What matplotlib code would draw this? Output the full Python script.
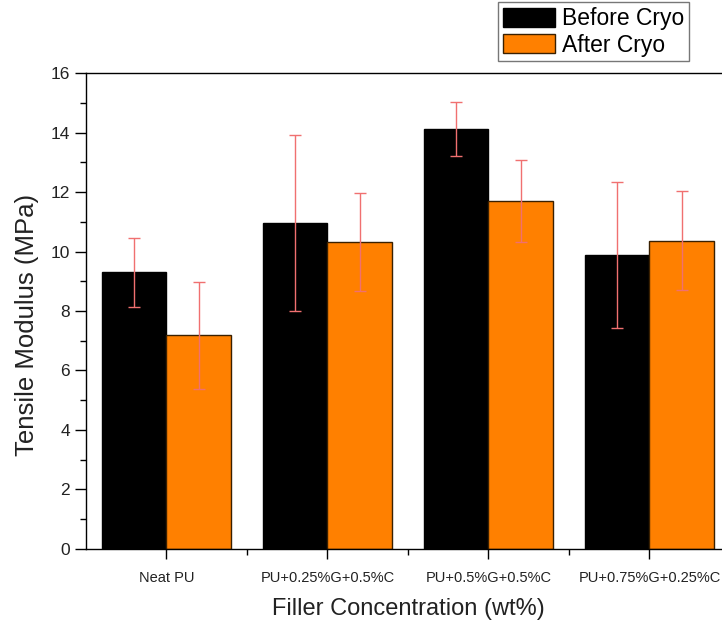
import numpy as np
import matplotlib.pyplot as plt
from matplotlib.ticker import MultipleLocator, FixedLocator

plt.rcParams['font.family'] = ['Liberation Sans', 'DejaVu Sans']

categories = ['Neat PU', 'PU+0.25%G+0.5%C', 'PU+0.5%G+0.5%C', 'PU+0.75%G+0.25%C']
before_cryo = [9.30, 10.96, 14.12, 9.88]
before_err = [1.17, 2.97, 0.92, 2.46]
after_cryo = [7.19, 10.32, 11.70, 10.36]
after_err = [1.80, 1.66, 1.38, 1.67]

fig = plt.figure(figsize=(7.22, 6.23), dpi=100)
ax = fig.add_axes([0.119, 0.1188, 0.892, 0.764])

x = np.arange(1, len(categories) + 1)
w = 0.4
err_style = dict(ecolor='#f07070', elinewidth=1.0, capsize=4, capthick=1.0)
b1 = ax.bar(x - w / 2, before_cryo, w, color='black', edgecolor='black',
            linewidth=1, yerr=before_err, error_kw=err_style, label='Before Cryo')
b2 = ax.bar(x + w / 2, after_cryo, w, color='#ff8000', edgecolor='#3a2000',
            linewidth=1, yerr=after_err, error_kw=err_style, label='After Cryo')

ax.set_xlim(0.5, 4.5)
ax.set_ylim(0, 16)
ax.set_xticks(x)
ax.set_xticklabels(categories, fontsize=10.5, color='#222222')
ax.xaxis.set_minor_locator(FixedLocator([1.5, 2.5, 3.5]))
ax.yaxis.set_major_locator(MultipleLocator(2))
ax.yaxis.set_minor_locator(MultipleLocator(1))
ax.tick_params(axis='y', which='major', labelsize=12.5, length=8, width=1,
               direction='out', labelcolor='#222222')
ax.tick_params(axis='y', which='minor', length=4, width=1, direction='out')
ax.tick_params(axis='x', which='major', length=7, width=1, direction='out', pad=9)
ax.tick_params(axis='x', which='minor', length=4, width=1, direction='out')
ax.spines['right'].set_visible(False)
for s in ['left', 'bottom', 'top']:
    ax.spines[s].set_linewidth(1.0)

ax.set_ylabel('Tensile Modulus (MPa)', fontsize=18.5, color='#222222')
ax.yaxis.set_label_coords(-0.073, 0.47)
ax.set_xlabel('Filler Concentration (wt%)', fontsize=17, color='#222222', labelpad=9)

fig.legend(handles=[b1, b2], labels=['Before Cryo', 'After Cryo'],
           loc='upper left', bbox_to_anchor=(0.690, 0.996), fontsize=16.5,
           frameon=True, fancybox=False, edgecolor='#555555',
           handlelength=2.3, handleheight=0.9, handletextpad=0.3,
           borderpad=0.2, labelspacing=0.15, borderaxespad=0)

fig.savefig('out.png', dpi=100)
